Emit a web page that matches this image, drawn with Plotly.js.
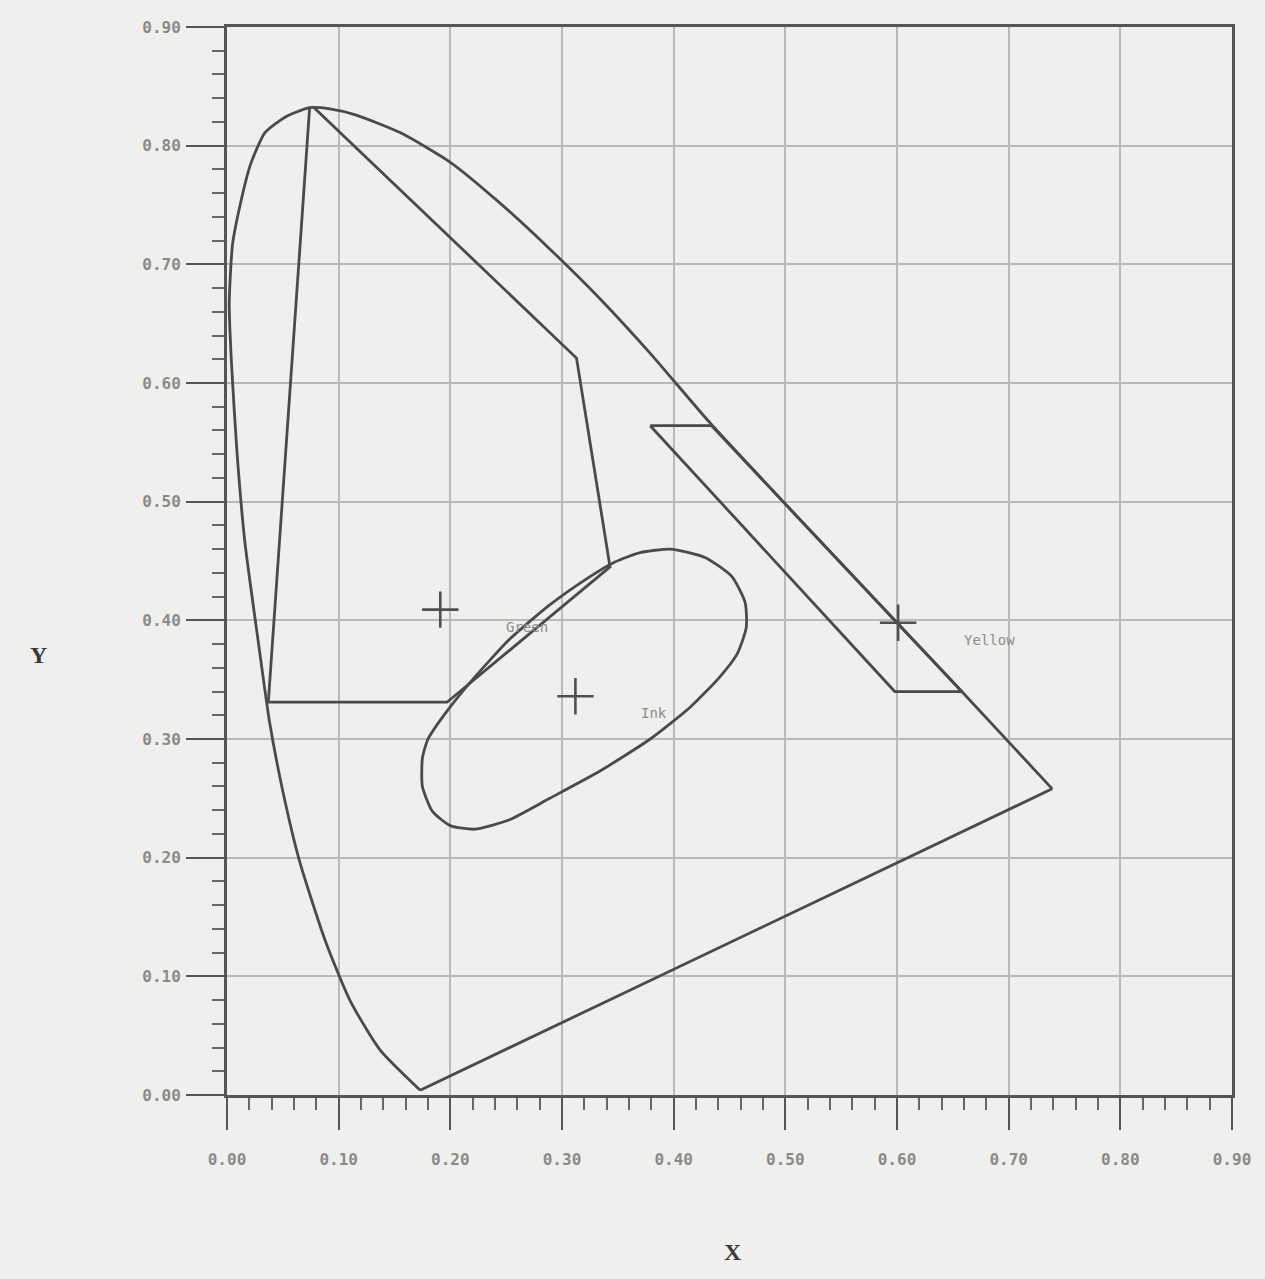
<!DOCTYPE html>
<html>
<head>
<meta charset="utf-8">
<script src="https://cdn.plot.ly/plotly-3.0.1.min.js"></script>
<style>
  html, body { margin: 0; padding: 0; background: #efefed; }
  #chart { width: 1265px; height: 1279px; }
</style>
</head>
<body>
<div id="chart"></div>
<script>
// spectral locus (horseshoe), closed by the line of purples
var locusX = [0.173, 0.137, 0.110, 0.088, 0.065, 0.050, 0.038, 0.028, 0.016, 0.009, 0.004, 0.002, 0.005, 0.012, 0.021, 0.034, 0.052, 0.074, 0.092, 0.115, 0.155, 0.200, 0.244, 0.289, 0.334, 0.379, 0.432, 0.513, 0.600, 0.658, 0.739];
var locusY = [0.004, 0.038, 0.080, 0.130, 0.197, 0.256, 0.315, 0.382, 0.466, 0.541, 0.617, 0.667, 0.717, 0.751, 0.784, 0.811, 0.824, 0.832, 0.831, 0.826, 0.811, 0.786, 0.752, 0.713, 0.671, 0.625, 0.567, 0.485, 0.398, 0.340, 0.258];
var purpleX = [0.739, 0.173];
var purpleY = [0.258, 0.004];

// green region
var greenX = [0.074, 0.037, 0.197, 0.343, 0.313, 0.078];
var greenY = [0.832, 0.331, 0.331, 0.445, 0.621, 0.832];

// ink ellipse
var inkX = [0.397, 0.428, 0.452, 0.464, 0.465, 0.457, 0.441, 0.415, 0.379, 0.334, 0.289, 0.253, 0.222, 0.200, 0.184, 0.175, 0.175, 0.180, 0.195, 0.218, 0.253, 0.289, 0.322, 0.347, 0.370, 0.397];
var inkY = [0.460, 0.453, 0.437, 0.415, 0.394, 0.372, 0.352, 0.327, 0.300, 0.273, 0.250, 0.232, 0.224, 0.227, 0.239, 0.260, 0.284, 0.300, 0.321, 0.348, 0.384, 0.413, 0.435, 0.449, 0.457, 0.460];

// yellow region
var yellowX = [0.379, 0.434, 0.658, 0.598, 0.379];
var yellowY = [0.564, 0.564, 0.340, 0.340, 0.564];

// colour points
var pointNames = ["Green", "Ink", "Yellow"];
var pointX = [0.191, 0.312, 0.601];
var pointY = [0.409, 0.336, 0.398];

var tickVals = [0, 0.1, 0.2, 0.3, 0.4, 0.5, 0.6, 0.7, 0.8, 0.9];
var tickText = ["0.00", "0.10", "0.20", "0.30", "0.40", "0.50", "0.60", "0.70", "0.80", "0.90"];

var lineColor = '#4a4a4a';

function outline(x, y, shape) {
    return {
        x: x, y: y, type: 'scatter', mode: 'lines',
        line: {color: lineColor, width: 2.8, shape: shape || 'linear', smoothing: 0.6},
        hoverinfo: 'skip'
    };
}

var traces = [
    outline(locusX, locusY, 'spline'),
    outline(purpleX, purpleY),
    outline(greenX, greenY),
    outline(inkX, inkY, 'spline'),
    outline(yellowX, yellowY),
    {
        x: pointX, y: pointY, type: 'scatter', mode: 'markers',
        marker: {symbol: 'cross-thin', size: 26, line: {color: '#505050', width: 2.6}},
        hoverinfo: 'skip'
    }
];

var annotations = pointNames.map(function(name, i) {
    return {
        x: pointX[i], y: pointY[i], xref: 'x', yref: 'y',
        text: name, showarrow: false, xanchor: 'left', yanchor: 'middle',
        xshift: 64, yshift: -17,
        font: {family: 'DejaVu Sans Mono', size: 14, color: '#8c8c8c'}
    };
});

annotations.push({
    x: -0.188, y: 0.412, xref: 'paper', yref: 'paper', text: '<b>Y</b>',
    xanchor: 'center', yanchor: 'middle',
    showarrow: false, font: {family: 'Liberation Serif', size: 24, color: '#3a3a3a'}
});
annotations.push({
    x: 0.503, y: -0.147, xref: 'paper', yref: 'paper', text: '<b>X</b>',
    xanchor: 'center', yanchor: 'middle',
    showarrow: false, font: {family: 'Liberation Serif', size: 24, color: '#3a3a3a'}
});

var axisCommon = {
    range: [0, 0.9],
    tickvals: tickVals,
    ticktext: tickText,
    ticks: 'outside',
    tickcolor: '#555',
    tickwidth: 2,
    showgrid: true,
    gridcolor: '#b9b9b7',
    gridwidth: 2,
    zeroline: false,
    showline: true,
    linecolor: '#555',
    linewidth: 3,
    mirror: true,
    tickfont: {family: 'DejaVu Sans Mono', size: 16, color: '#8a8a8a', weight: 'bold'},
    minor: {dtick: 0.02, ticks: 'outside', ticklen: 12, tickcolor: '#666', tickwidth: 2, showgrid: false}
};

var layout = {
    width: 1265,
    height: 1279,
    margin: {l: 227, r: 33, t: 27, b: 184},
    paper_bgcolor: '#efefed',
    plot_bgcolor: '#efefed',
    showlegend: false,
    xaxis: Object.assign({}, axisCommon, {ticklen: 32, ticklabelstandoff: 16}),
    yaxis: Object.assign({}, axisCommon, {ticklen: 38, ticklabelstandoff: 2}),
    annotations: annotations
};

Plotly.newPlot('chart', traces, layout, {staticPlot: true});
</script>
</body>
</html>
